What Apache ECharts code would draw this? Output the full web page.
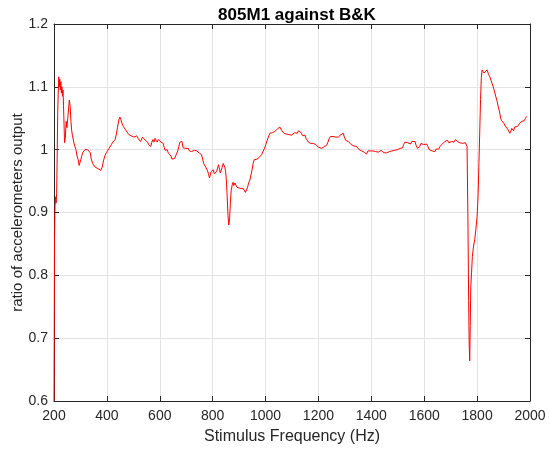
<!DOCTYPE html>
<html>
<head>
<meta charset="utf-8">
<script src="https://cdn.jsdelivr.net/npm/echarts@6/dist/echarts.min.js"></script>
<style>
  html, body { margin: 0; padding: 0; background: #fff; }
  #chart { width: 550px; height: 454px; }
</style>
</head>
<body>
<div id="chart"></div>
<script>
// values
const freq = [
  200, 202, 204, 206, 208, 210, 212, 214, 216, 218, 220, 222, 224, 226, 228, 230, 232, 234, 236, 238,
  240, 243, 246, 249, 252, 255, 258, 261, 264, 267, 270, 273, 276, 279, 283, 287, 291, 295, 298, 302,
  305, 308, 312, 317, 322, 327, 333, 337, 341, 346, 351, 356, 361, 366, 371, 377, 382, 387, 393, 398,
  403, 408, 412, 417, 422, 427, 431, 436, 440, 445, 449, 453, 457, 462, 468, 473, 478, 483, 487, 492,
  497, 502, 507, 513, 518, 522, 527, 531, 535, 540, 545, 550, 554, 558, 562, 566, 570, 574, 578, 582,
  586, 590, 594, 598, 601, 605, 609, 613, 617, 620, 624, 628, 632, 638, 642, 646, 651, 656, 660, 664,
  668, 672, 676, 680, 684, 688, 692, 695, 699, 703, 708, 712, 716, 720, 724, 727, 731, 735, 740, 745,
  749, 754, 758, 762, 766, 770, 774, 777, 781, 785, 788, 791, 794, 798, 802, 806, 810, 815, 819, 822,
  826, 829, 832, 836, 840, 843, 846, 849, 852, 855, 858, 861, 864, 867, 870, 874, 877, 880, 884, 888,
  892, 896, 900, 904, 908, 912, 916, 920, 924, 928, 932, 936, 941, 945, 949, 953, 957, 960, 964, 968,
  972, 976, 980, 985, 991, 996, 1001, 1006, 1011, 1016, 1021, 1026, 1031, 1035, 1040, 1045, 1050, 1054, 1058, 1062,
  1066, 1070, 1073, 1078, 1083, 1088, 1093, 1098, 1102, 1105, 1110, 1115, 1120, 1124, 1128, 1132, 1136, 1141, 1145, 1149,
  1153, 1157, 1162, 1166, 1170, 1174, 1180, 1185, 1190, 1195, 1200, 1206, 1212, 1217, 1222, 1226, 1231, 1236, 1240, 1245,
  1250, 1255, 1260, 1265, 1270, 1275, 1280, 1285, 1290, 1294, 1298, 1303, 1308, 1313, 1319, 1324, 1329, 1334, 1339, 1344,
  1349, 1354, 1359, 1364, 1369, 1373, 1378, 1382, 1387, 1392, 1396, 1401, 1406, 1411, 1416, 1421, 1426, 1432, 1437, 1442,
  1447, 1452, 1458, 1463, 1468, 1473, 1478, 1483, 1488, 1493, 1498, 1503, 1508, 1513, 1518, 1522, 1527, 1533, 1538, 1543,
  1548, 1553, 1558, 1565, 1570, 1575, 1579, 1583, 1588, 1593, 1598, 1603, 1609, 1614, 1619, 1624, 1630, 1635, 1640, 1645,
  1650, 1655, 1659, 1664, 1669, 1674, 1678, 1683, 1688, 1693, 1698, 1703, 1708, 1713, 1718, 1722, 1726, 1731, 1735, 1740,
  1745, 1750, 1756, 1760, 1762, 1765, 1768, 1770, 1772, 1774, 1776, 1779, 1782, 1786, 1791, 1795, 1800, 1804, 1807, 1810,
  1813, 1816, 1819, 1823, 1826, 1829, 1833, 1838, 1843, 1848, 1853, 1857, 1861, 1866, 1871, 1875, 1880, 1885, 1889, 1893,
  1897, 1901, 1906, 1911, 1915, 1920, 1924, 1928, 1931, 1934, 1938, 1942, 1945, 1949, 1953, 1957, 1961, 1965, 1969, 1974,
  1978, 1983, 1987
];
const ratio = [
  0.60, 0.86, 0.91, 0.925, 0.915, 0.93, 0.99, 1.058, 1.09, 1.116, 1.10, 1.112, 1.095, 1.108, 1.09, 1.10, 1.085, 1.095, 1.07, 1.04,
  1.011, 1.02, 1.045, 1.035, 1.05, 1.065, 1.079, 1.07, 1.045, 1.03, 1.022, 1.024, 1.01, 1.005, 1.0, 0.99, 0.985, 0.975, 0.973, 0.985,
  0.99, 0.995, 0.992, 1.0, 0.998, 1.0, 1.0, 0.995, 0.985, 0.978, 0.975, 0.972, 0.970, 0.970, 0.968, 0.967, 0.972, 0.982, 0.991, 0.995,
  0.998, 1.002, 1.002, 1.008, 1.012, 1.013, 1.016, 1.025, 1.035, 1.047, 1.052, 1.048, 1.042, 1.037, 1.034, 1.030, 1.027, 1.024, 1.026, 1.022,
  1.023, 1.020, 1.022, 1.022, 1.018, 1.017, 1.013, 1.013, 1.02, 1.022, 1.015, 1.018, 1.012, 1.008, 1.005, 1.005, 1.012, 1.016, 1.012, 1.018,
  1.017, 1.012, 1.016, 1.013, 1.014, 1.012, 1.015, 1.01, 1.003, 0.999, 0.996, 1.0, 0.995, 0.992, 0.99, 0.985, 0.984, 0.986, 0.99, 0.989,
  0.998, 1.005, 1.012, 1.015, 1.013, 1.003, 1.005, 1.0, 1.002, 1.0, 1.002, 0.998, 1.0, 0.997, 0.998, 0.997, 0.999, 0.996, 0.998, 0.997,
  0.995, 0.993, 0.992, 0.985, 0.978, 0.975, 0.972, 0.970, 0.966, 0.96, 0.955, 0.958, 0.965, 0.963, 0.968, 0.962, 0.96, 0.965, 0.972, 0.976,
  0.968, 0.963, 0.965, 0.972, 0.978, 0.978, 0.972, 0.965, 0.95, 0.925, 0.895, 0.880, 0.89, 0.915, 0.935, 0.944, 0.948, 0.943, 0.947, 0.944,
  0.94, 0.941, 0.939, 0.94, 0.938, 0.939, 0.938, 0.936, 0.932, 0.931, 0.94, 0.947, 0.952, 0.96, 0.968, 0.978, 0.984, 0.984, 0.983, 0.985,
  0.986, 0.988, 0.99, 0.992, 0.994, 1.002, 1.008, 1.015, 1.02, 1.026, 1.028, 1.027, 1.03, 1.029, 1.031, 1.033, 1.032, 1.036, 1.039, 1.03,
  1.027, 1.026, 1.026, 1.025, 1.027, 1.024, 1.025, 1.023, 1.026, 1.023, 1.027, 1.028, 1.026, 1.03, 1.031, 1.028, 1.029, 1.022, 1.025, 1.023,
  1.018, 1.015, 1.012, 1.014, 1.01, 1.012, 1.010, 1.007, 1.008, 1.005, 1.004, 1.005, 1.002, 1.003, 1.005, 1.007, 1.007, 1.012, 1.017, 1.021,
  1.023, 1.021, 1.019, 1.02, 1.018, 1.020, 1.021, 1.024, 1.026, 1.026, 1.02, 1.015, 1.012, 1.013, 1.010, 1.008, 1.005, 1.006, 1.004, 1.005,
  1.002, 1.0, 1.001, 0.998, 1.0, 0.996, 0.994, 0.993, 0.998, 1.0, 0.998, 1.0, 0.998, 1.0, 0.997, 0.999, 0.996, 0.997, 0.999, 0.996,
  0.995, 0.997, 0.995, 0.998, 0.997, 1.0, 0.998, 1.0, 0.999, 1.002, 1.0, 1.001, 1.002, 1.0, 1.003, 1.008, 1.012, 1.013, 1.011, 1.014,
  1.009, 1.013, 1.010, 1.013, 1.006, 1.002, 1.005, 1.005, 1.01, 1.007, 1.008, 1.006, 1.009, 1.005, 1.0, 0.999, 0.998, 0.999, 0.997, 1.001,
  1.003, 1.001, 1.005, 1.006, 1.009, 1.01, 1.013, 1.011, 1.015, 1.011, 1.014, 1.013, 1.015, 1.012, 1.016, 1.018, 1.013, 1.011, 1.011, 1.012,
  1.01, 1.012, 1.011, 1.012, 1.005, 0.90, 0.76, 0.69, 0.664, 0.72, 0.78, 0.804, 0.83, 0.845, 0.857, 0.872, 0.894, 0.93, 0.98, 1.03,
  1.08, 1.115, 1.127, 1.124, 1.122, 1.12, 1.124, 1.127, 1.12, 1.116, 1.11, 1.105, 1.10, 1.092, 1.084, 1.078, 1.068, 1.06, 1.05, 1.046,
  1.047, 1.042, 1.038, 1.037, 1.033, 1.03, 1.026, 1.03, 1.034, 1.034, 1.03, 1.036, 1.034, 1.039, 1.037, 1.04, 1.042, 1.04, 1.045, 1.047,
  1.046, 1.05, 1.053
];

const FONT = 'Liberation Sans, Arial, sans-serif';
const AXIS_COLOR = '#262626';
const GRID_COLOR = '#e3e3e3';

var chartDom = document.getElementById('chart');
var myChart = echarts.init(chartDom);

// box with inward ticks on all four sides, like the original plot
var frameAxis = function (extra) {
  return Object.assign({
    axisLine: { show: true, onZero: false, lineStyle: { color: AXIS_COLOR, width: 1 } },
    axisTick: { show: true, inside: true, length: 5, lineStyle: { color: AXIS_COLOR } },
    axisLabel: { show: false },
    splitLine: { show: false }
  }, extra);
};

option = {
  animation: false,
  backgroundColor: '#fff',
  title: {
    text: '805M1 against B&K',
    left: 292,
    textAlign: 'center',
    top: 2,
    textStyle: { fontFamily: FONT, fontSize: 17, fontWeight: 'bold', color: '#000' }
  },
  grid: { left: 54, right: 20, top: 24, bottom: 53, outerBoundsMode: 'none' },
  xAxis: [
    {
      type: 'value',
      min: 200,
      max: 2000,
      interval: 200,
      name: 'Stimulus Frequency (Hz)',
      nameLocation: 'middle',
      nameGap: 28,
      nameMoveOverlap: false,
      nameTextStyle: { fontFamily: FONT, fontSize: 16, color: AXIS_COLOR },
      axisLine: { show: true, onZero: false, lineStyle: { color: AXIS_COLOR } },
      axisTick: { show: true, inside: true, length: 5, lineStyle: { color: AXIS_COLOR } },
      axisLabel: {
        fontFamily: FONT, fontSize: 14, color: AXIS_COLOR, margin: 8,
        formatter: function (v) { return String(v); }
      },
      splitLine: { show: true, lineStyle: { color: GRID_COLOR, width: 1 } }
    },
    frameAxis({ type: 'value', position: 'top', min: 200, max: 2000, interval: 200 })
  ],
  yAxis: [
    {
      type: 'value',
      min: 0.6,
      max: 1.2,
      interval: 0.1,
      name: 'ratio of accelerometers output',
      nameLocation: 'middle',
      nameGap: 29,
      nameMoveOverlap: false,
      nameTextStyle: { fontFamily: FONT, fontSize: 15, color: AXIS_COLOR },
      axisLine: { show: true, onZero: false, lineStyle: { color: AXIS_COLOR } },
      axisTick: { show: true, inside: true, length: 5, lineStyle: { color: AXIS_COLOR } },
      axisLabel: {
        fontFamily: FONT, fontSize: 14, color: AXIS_COLOR, margin: 6,
        formatter: function (v) { return +v.toFixed(1) + ''; }
      },
      splitLine: { show: true, lineStyle: { color: GRID_COLOR, width: 1 } }
    },
    frameAxis({ type: 'value', position: 'right', min: 0.6, max: 1.2, interval: 0.1 })
  ],
  series: [
    {
      type: 'line',
      data: freq.map(function (f, i) { return [f, ratio[i]]; }),
      showSymbol: false,
      clip: true,
      lineStyle: { color: '#ff0000', width: 1 },
      itemStyle: { color: '#ff0000' }
    }
  ]
};

myChart.setOption(option);
</script>
</body>
</html>
